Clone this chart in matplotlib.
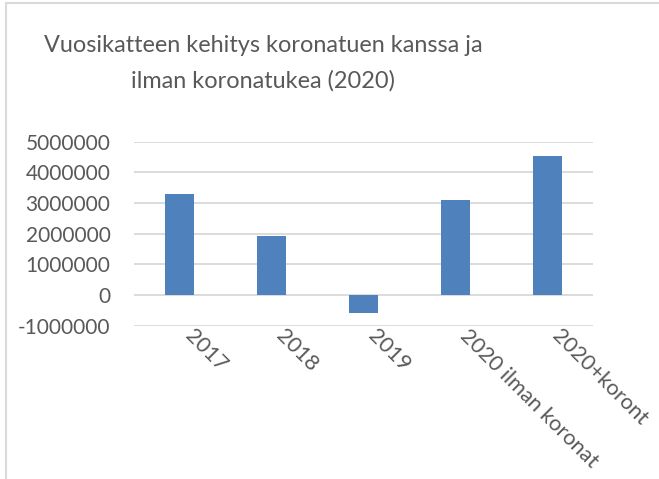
import matplotlib
matplotlib.use("Agg")
import matplotlib.pyplot as plt
from matplotlib.patches import Rectangle
from matplotlib.transforms import ScaledTranslation

categories = ["2017", "2018", "2019", "2020 ilman koronat", "2020+koront"]
values = [3300000, 1930000, -570000, 3100000, 4540000]
yticks = [-1000000, 0, 1000000, 2000000, 3000000, 4000000, 5000000]
title = "Vuosikatteen kehitys koronatuen kanssa ja\nilman koronatukea (2020)"

plt.rcParams['font.family'] = ['Lato', 'DejaVu Sans']
gray_text = "#595959"
grid_col = "#d9d9d9"
bar_col = "#4f81bd"

fig = plt.figure(figsize=(6.59, 4.79), dpi=100)
ax = fig.add_axes([134/659, 1-325.7/479, (593-134)/659, (325.7-141.7)/479])

x = list(range(len(categories)))
ax.bar(x, values, width=0.315, color=bar_col, zorder=3)
ax.set_xlim(-0.5, len(categories)-0.5)
ax.set_ylim(-1000000, 5000000)
ax.set_yticks(yticks)
ax.set_yticklabels([str(v) for v in yticks], fontsize=15, color=gray_text)
for v in yticks:
    ax.axhline(v, color=grid_col, lw=1.3, zorder=1)
for s in ax.spines.values():
    s.set_visible(False)
ax.tick_params(axis='y', length=0, pad=17)
ax.set_xticks(x)
ax.set_xticklabels(categories, rotation=-45, ha='left', va='top',
                   rotation_mode='anchor', fontsize=15.6, color=gray_text)
ax.tick_params(axis='x', length=0, pad=0)
offset = ScaledTranslation(15/100, 0, fig.dpi_scale_trans)
for lab in ax.get_xticklabels():
    lab.set_transform(lab.get_transform() + offset)

fig.text(263/659, 1-63/479, title, ha='center', va='center', fontsize=16.9,
         color=gray_text, linespacing=1.8)

fig.patches.append(Rectangle((5.5/659, -0.1), 1.2, 1.1 - 3.5/479,
                             transform=fig.transFigure, fill=False,
                             edgecolor=grid_col, lw=1.5))

fig.savefig("out.png", dpi=100)
